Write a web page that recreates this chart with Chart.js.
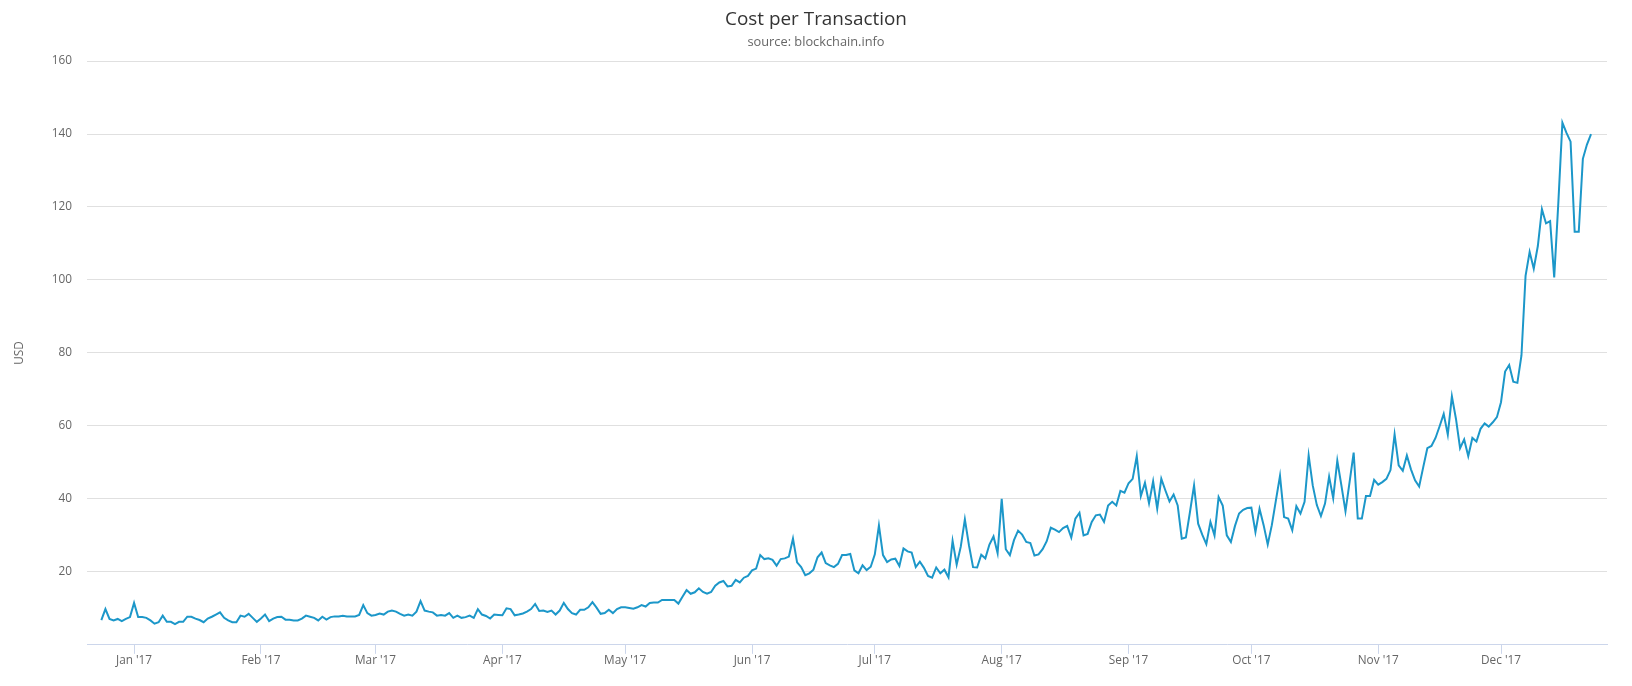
<!DOCTYPE html>
<html>
<head>
<meta charset="utf-8">
<title>Cost per Transaction</title>
<script src="https://cdn.jsdelivr.net/npm/chart.js@4/dist/chart.umd.min.js"></script>
<style>
	html, body { margin: 0; padding: 0; background: #fff; }
	#wrap { width: 1632px; height: 686px; }
</style>
</head>
<body>
<div id="wrap"><canvas id="chart" width="1632" height="686"></canvas></div>
<script>
// day numbers are counted from Jan 1 2017 (day 0); first point is Dec 24 2016
const firstDay = -8;

// daily cost per transaction in USD, Dec 24 2016 .. Dec 23 2017
const costPerTx = [
	6.8, 9.8, 7.1, 6.7, 7.1, 6.5, 7.1, 7.6,
	// Jan
	11.5, 7.6, 7.6, 7.4, 6.7, 5.8, 6.2, 8.0, 6.3, 6.3,
	5.7, 6.3, 6.3, 7.7, 7.7, 7.2, 6.8, 6.2, 7.2, 7.7,
	8.3, 8.9, 7.4, 6.7, 6.2, 6.2, 8.0, 7.7, 8.5, 7.4,
	6.3,
	// Feb
	7.2, 8.3, 6.5, 7.2, 7.6, 7.7, 6.9, 6.9, 6.7,
	6.7, 7.2, 8.0, 7.7, 7.4, 6.7, 7.7, 6.9, 7.6, 7.8,
	7.8, 8.0, 7.8, 7.8, 7.8, 8.2, 10.9, 8.7, 8.0,
	// Mar
	8.2, 8.6, 8.3, 9.1, 9.4, 9.1, 8.5, 8.0, 8.3, 8.0, 9.1,
	12.0, 9.4, 9.1, 8.9, 8.0, 8.2, 8.0, 8.7, 7.4, 8.0,
	7.4, 7.6, 8.0, 7.4, 9.8, 8.3, 7.9, 7.2, 8.3, 8.2,
	// Apr
	8.1, 10.0, 9.8, 8.1, 8.3, 8.6, 9.1, 9.8, 11.2, 9.3,
	9.4, 9.0, 9.4, 8.3, 9.4, 11.5, 9.8, 8.7, 8.3, 9.6,
	9.6, 10.3, 11.7, 10.2, 8.5, 8.7, 9.6, 8.7, 9.8, 10.3,
	// May
	10.3, 10.1, 9.9, 10.3, 10.9, 10.5, 11.5, 11.6, 11.6, 12.3,
	12.3, 12.3, 12.3, 11.3, 13.2, 15.0, 14.0, 14.4, 15.5, 14.5,
	14.0, 14.5, 16.2, 17.1, 17.5, 16.0, 16.2, 17.8, 17.1, 18.4,
	18.9,
	// Jun
	20.4, 20.9, 24.6, 23.5, 23.7, 23.3, 21.7, 23.5, 23.7,
	24.2, 29.1, 22.6, 21.3, 19.1, 19.6, 20.6, 24.0, 25.3, 22.4,
	21.8, 21.3, 22.2, 24.6, 24.6, 24.9, 20.4, 19.6, 21.8, 20.5,
	21.4,
	// Jul
	24.8, 32.7, 24.6, 22.7, 23.4, 23.6, 21.6, 26.4, 25.6,
	25.3, 21.3, 22.8, 21.1, 18.9, 18.4, 21.2, 19.6, 20.6, 18.5,
	28.5, 22.0, 26.9, 34.4, 27.3, 21.3, 21.2, 24.7, 23.7, 27.5,
	29.7, 25.1,
	// Aug
	40.0, 26.2, 24.6, 28.7, 31.3, 30.2, 28.2, 27.9,
	24.5, 24.8, 26.2, 28.4, 32.1, 31.6, 30.9, 32.0, 32.6, 29.4,
	34.6, 36.2, 30.0, 30.4, 33.7, 35.5, 35.7, 33.7, 38.2, 39.2,
	38.2, 42.2, 41.7,
	// Sep
	44.3, 45.5, 51.7, 40.8, 44.4, 38.8, 44.8,
	37.3, 45.5, 42.3, 39.3, 41.2, 38.2, 29.1, 29.4, 36.4, 43.7,
	33.2, 30.2, 27.6, 33.7, 30.0, 40.5, 38.2, 30.0, 28.2, 32.6,
	36.0, 37.0, 37.5,
	// Oct
	37.6, 30.9, 37.3, 32.8, 27.5, 32.8, 39.6,
	46.3, 35.0, 34.6, 31.4, 38.0, 36.0, 39.2, 51.9, 43.7, 38.3,
	35.3, 38.7, 46.1, 40.2, 50.5, 43.7, 36.6, 44.6, 52.7, 34.6,
	34.6, 40.8, 40.8, 45.2,
	// Nov
	43.9, 44.6, 45.5, 47.9, 57.7, 49.2,
	47.7, 51.9, 48.1, 45.1, 43.4, 48.7, 53.9, 54.5, 56.7, 59.9,
	63.3, 57.6, 68.1, 61.9, 53.9, 56.3, 51.7, 56.7, 55.7, 59.2,
	60.7, 59.8, 61.0, 62.4,
	// Dec
	66.5, 74.9, 76.7, 72.1, 71.8, 79.3,
	101.1, 107.7, 103.1, 109.3, 119.4, 115.5, 116.1, 100.7, 121.0, 143.1,
	140.3, 137.9, 113.2, 113.2, 133.2, 137.1, 140.0
];

// month tick positions (day numbers) and their labels
const monthStarts = [0, 31, 59, 90, 120, 151, 181, 212, 243, 273, 304, 334];
const monthLabels = ["Jan '17", "Feb '17", "Mar '17", "Apr '17", "May '17", "Jun '17",
	"Jul '17", "Aug '17", "Sep '17", "Oct '17", "Nov '17", "Dec '17"];

const yTicks = [0, 20, 40, 60, 80, 100, 120, 140, 160];

const points = costPerTx.map((v, i) => ({ x: firstDay + i, y: v }));

const fontFamily = '"Open Sans", "Lucida Grande", "DejaVu Sans", sans-serif';

const ctx = document.getElementById('chart').getContext('2d');
new Chart(ctx, {
	type: 'line',
	data: {
		datasets: [{
			label: 'Cost per Transaction',
			data: points,
			borderColor: '#1c97c9',
			borderWidth: 2,
			pointRadius: 0,
			tension: 0,
			fill: false
		}]
	},
	options: {
		responsive: false,
		animation: false,
		devicePixelRatio: 1,
		layout: { padding: { left: 5, right: 5, top: 0, bottom: 18 } },
		plugins: {
			legend: { display: false },
			tooltip: { enabled: false },
			title: {
				display: true,
				text: 'Cost per Transaction',
				color: '#333333',
				font: { family: fontFamily, size: 18.9, weight: 'normal', lineHeight: 1.2 },
				padding: { top: 8, bottom: 0 }
			},
			subtitle: {
				display: true,
				text: 'source: blockchain.info',
				color: '#666666',
				font: { family: fontFamily, size: 12.8, weight: 'normal', lineHeight: 1.2 },
				padding: { top: 4, bottom: 11 }
			}
		},
		scales: {
			x: {
				type: 'linear',
				min: -11.5,
				max: 359.9,
				afterBuildTicks: (scale) => {
					scale.ticks = monthStarts.map(v => ({ value: v }));
				},
				ticks: {
					autoSkip: false,
					maxRotation: 0,
					minRotation: 0,
					padding: 0,
					color: '#666666',
					font: { family: fontFamily, size: 11.8 },
					callback: (value, index) => monthLabels[index]
				},
				grid: {
					drawOnChartArea: false,
					drawTicks: true,
					tickLength: 9,
					tickColor: '#ccd6eb'
				},
				border: { display: true, color: '#ccd6eb', width: 1 }
			},
			y: {
				min: 0,
				max: 160,
				afterBuildTicks: (scale) => {
					scale.ticks = yTicks.map(v => ({ value: v }));
				},
				afterFit: (scale) => { scale.width = 82; },
				ticks: {
					padding: 15,
					color: '#666666',
					font: { family: fontFamily, size: 11.8 },
					callback: (value) => value === 0 ? '' : value
				},
				grid: {
					color: (c) => c.tick && c.tick.value === 0 ? 'rgba(0,0,0,0)' : '#e0e0e0',
					drawTicks: false,
					lineWidth: 1
				},
				border: { display: false },
				title: {
					display: true,
					text: 'USD',
					color: '#666666',
					font: { family: fontFamily, size: 11.8 },
					padding: { top: 8, bottom: 0 }
				}
			},
			// empty right-hand strip so the plot ends where the reference does
			yRight: {
				position: 'right',
				display: true,
				afterFit: (scale) => { scale.width = 20; },
				ticks: { display: false },
				grid: { display: false, drawTicks: false },
				border: { display: false }
			}
		}
	}
});
</script>
</body>
</html>
